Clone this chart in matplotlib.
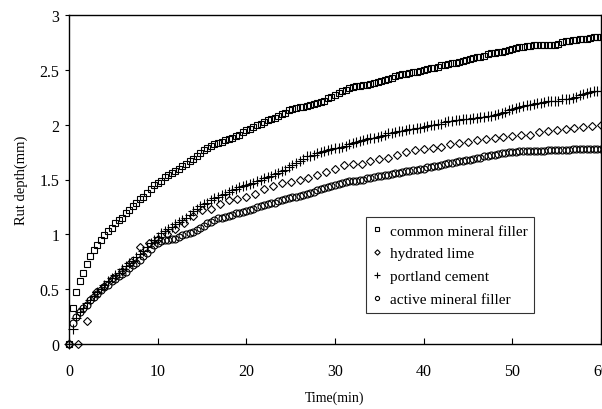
import numpy as np
import matplotlib
matplotlib.use('Agg')
import matplotlib.pyplot as plt
from matplotlib.ticker import FuncFormatter

# time axis: dense series sampled every 0.4 min, hydrated lime every 1 min
t_dense = np.arange(151) * 0.4
t_lime = np.arange(61) * 1.0

common_filler = [
    0.00, 0.33, 0.47, 0.57, 0.65, 0.73, 0.80, 0.86, 0.90, 0.95,
    0.99, 1.03, 1.06, 1.10, 1.13, 1.15, 1.19, 1.22, 1.26, 1.29,
    1.32, 1.34, 1.38, 1.41, 1.45, 1.47, 1.49, 1.52, 1.54, 1.56,
    1.58, 1.60, 1.62, 1.64, 1.67, 1.69, 1.71, 1.74, 1.77, 1.79,
    1.81, 1.82, 1.83, 1.84, 1.86, 1.87, 1.88, 1.90, 1.91, 1.93,
    1.95, 1.96, 1.98, 2.00, 2.01, 2.02, 2.04, 2.05, 2.06, 2.08,
    2.10, 2.11, 2.13, 2.14, 2.15, 2.16, 2.16, 2.17, 2.18, 2.19,
    2.20, 2.21, 2.22, 2.24, 2.25, 2.27, 2.29, 2.31, 2.32, 2.33,
    2.34, 2.35, 2.35, 2.36, 2.36, 2.37, 2.38, 2.39, 2.40, 2.41,
    2.42, 2.43, 2.44, 2.45, 2.46, 2.46, 2.47, 2.48, 2.48, 2.49,
    2.50, 2.51, 2.52, 2.52, 2.53, 2.54, 2.54, 2.55, 2.56, 2.56,
    2.57, 2.58, 2.59, 2.60, 2.61, 2.62, 2.62, 2.63, 2.64, 2.65,
    2.65, 2.66, 2.66, 2.67, 2.68, 2.69, 2.70, 2.71, 2.71, 2.72,
    2.72, 2.73, 2.73, 2.73, 2.73, 2.73, 2.73, 2.73, 2.74, 2.75,
    2.76, 2.76, 2.77, 2.77, 2.78, 2.78, 2.78, 2.79, 2.80, 2.80,
    2.80]

hydrated_lime = [
    0.00, 0.00, 0.21, 0.47, 0.53, 0.60, 0.67, 0.75, 0.88, 0.92,
    0.96, 1.00, 1.05, 1.10, 1.17, 1.22, 1.23, 1.28, 1.31, 1.32,
    1.34, 1.37, 1.41, 1.44, 1.47, 1.48, 1.50, 1.51, 1.54, 1.57,
    1.60, 1.63, 1.64, 1.64, 1.67, 1.69, 1.70, 1.72, 1.75, 1.77,
    1.78, 1.79, 1.80, 1.82, 1.83, 1.84, 1.86, 1.87, 1.88, 1.89,
    1.90, 1.91, 1.91, 1.93, 1.94, 1.95, 1.96, 1.97, 1.98, 1.99,
    2.00]

portland_cement = [
    0.00, 0.14, 0.24, 0.29, 0.33, 0.37, 0.40, 0.44, 0.47, 0.50,
    0.54, 0.57, 0.60, 0.63, 0.65, 0.68, 0.71, 0.74, 0.76, 0.79,
    0.82, 0.85, 0.88, 0.92, 0.95, 0.98, 1.01, 1.03, 1.05, 1.07,
    1.09, 1.11, 1.13, 1.15, 1.18, 1.21, 1.23, 1.26, 1.28, 1.29,
    1.31, 1.33, 1.34, 1.36, 1.37, 1.39, 1.40, 1.41, 1.43, 1.44,
    1.45, 1.46, 1.47, 1.49, 1.50, 1.51, 1.52, 1.53, 1.55, 1.56,
    1.58, 1.59, 1.61, 1.63, 1.65, 1.67, 1.69, 1.71, 1.71, 1.72,
    1.74, 1.75, 1.76, 1.77, 1.78, 1.79, 1.79, 1.80, 1.81, 1.82,
    1.83, 1.84, 1.85, 1.86, 1.87, 1.88, 1.88, 1.89, 1.90, 1.91,
    1.92, 1.92, 1.93, 1.94, 1.94, 1.95, 1.96, 1.96, 1.97, 1.97,
    1.98, 1.99, 2.00, 2.00, 2.01, 2.01, 2.02, 2.03, 2.03, 2.04,
    2.04, 2.05, 2.05, 2.05, 2.06, 2.06, 2.07, 2.07, 2.08, 2.08,
    2.09, 2.10, 2.11, 2.12, 2.13, 2.14, 2.15, 2.16, 2.17, 2.18,
    2.18, 2.19, 2.20, 2.20, 2.21, 2.22, 2.22, 2.22, 2.22, 2.23,
    2.23, 2.23, 2.24, 2.25, 2.27, 2.28, 2.29, 2.30, 2.31, 2.31,
    2.31]

active_filler = [
    0.00, 0.19, 0.25, 0.29, 0.33, 0.36, 0.40, 0.43, 0.46, 0.49,
    0.52, 0.54, 0.57, 0.59, 0.62, 0.64, 0.66, 0.69, 0.72, 0.74,
    0.77, 0.80, 0.83, 0.87, 0.90, 0.92, 0.94, 0.95, 0.95, 0.96,
    0.96, 0.98, 0.99, 1.00, 1.01, 1.02, 1.04, 1.06, 1.08, 1.10,
    1.11, 1.13, 1.15, 1.15, 1.16, 1.17, 1.18, 1.19, 1.19, 1.20,
    1.21, 1.22, 1.23, 1.25, 1.26, 1.27, 1.28, 1.29, 1.29, 1.30,
    1.31, 1.32, 1.33, 1.34, 1.34, 1.35, 1.36, 1.37, 1.38, 1.39,
    1.40, 1.41, 1.42, 1.43, 1.44, 1.45, 1.46, 1.47, 1.48, 1.49,
    1.49, 1.49, 1.50, 1.50, 1.51, 1.51, 1.52, 1.53, 1.53, 1.54,
    1.54, 1.55, 1.56, 1.56, 1.57, 1.58, 1.58, 1.59, 1.59, 1.60,
    1.60, 1.61, 1.61, 1.62, 1.62, 1.63, 1.64, 1.65, 1.65, 1.66,
    1.67, 1.67, 1.68, 1.68, 1.69, 1.70, 1.70, 1.71, 1.71, 1.72,
    1.72, 1.73, 1.74, 1.74, 1.75, 1.75, 1.75, 1.76, 1.76, 1.76,
    1.76, 1.76, 1.76, 1.76, 1.76, 1.77, 1.77, 1.77, 1.77, 1.77,
    1.77, 1.77, 1.78, 1.78, 1.78, 1.78, 1.78, 1.78, 1.78, 1.78,
    1.78]

labels = ['common mineral filler', 'hydrated lime', 'portland cement', 'active mineral filler']

plt.rcParams['font.family'] = ['Liberation Serif', 'DejaVu Serif']

fig = plt.figure(figsize=(6.02, 4.10), dpi=100)
ax = fig.add_axes([69/602, 1-345/410, 532/602, 329/410])

mk = dict(linestyle='none', markerfacecolor='none', markeredgecolor='black',
          markeredgewidth=0.8, clip_on=False)
ax.plot(t_dense, common_filler, marker='s', markersize=5, label=labels[0], **mk)
ax.plot(t_lime, hydrated_lime, marker='D', markersize=4.5, label=labels[1], **mk)
ax.plot(t_dense, portland_cement, marker='+', markersize=7, color='black', label=labels[2], **mk)
ax.plot(t_dense, active_filler, marker='o', markersize=5, label=labels[3], **mk)

ax.set_xlim(0, 60)
ax.set_ylim(0, 3)
ax.set_xticks(np.arange(0, 61, 10))
ax.set_yticks(np.arange(0, 3.01, 0.5))
ax.yaxis.set_major_formatter(FuncFormatter(lambda v, p: '%g' % v))
ax.tick_params(axis='x', direction='in', length=4, labelsize=11.5, pad=14)
ax.tick_params(axis='y', direction='out', length=3, labelsize=11.5, pad=4)
for s in ax.spines.values():
    s.set_linewidth(1.0)

ax.set_xlabel('Time(min)', fontsize=10, labelpad=8)
ax.set_ylabel('Rut depth(mm)', fontsize=10.5, labelpad=8)

leg = fig.legend(loc='upper left', bbox_to_anchor=(366/602, 1-218/410), fontsize=11,
                 markerscale=0.6, handlelength=0.6, handletextpad=0.5,
                 labelspacing=0.6, borderpad=0.45, borderaxespad=0,
                 frameon=True, fancybox=False, edgecolor='black')
leg.get_frame().set_linewidth(0.8)

fig.savefig('out.png', dpi=100)
